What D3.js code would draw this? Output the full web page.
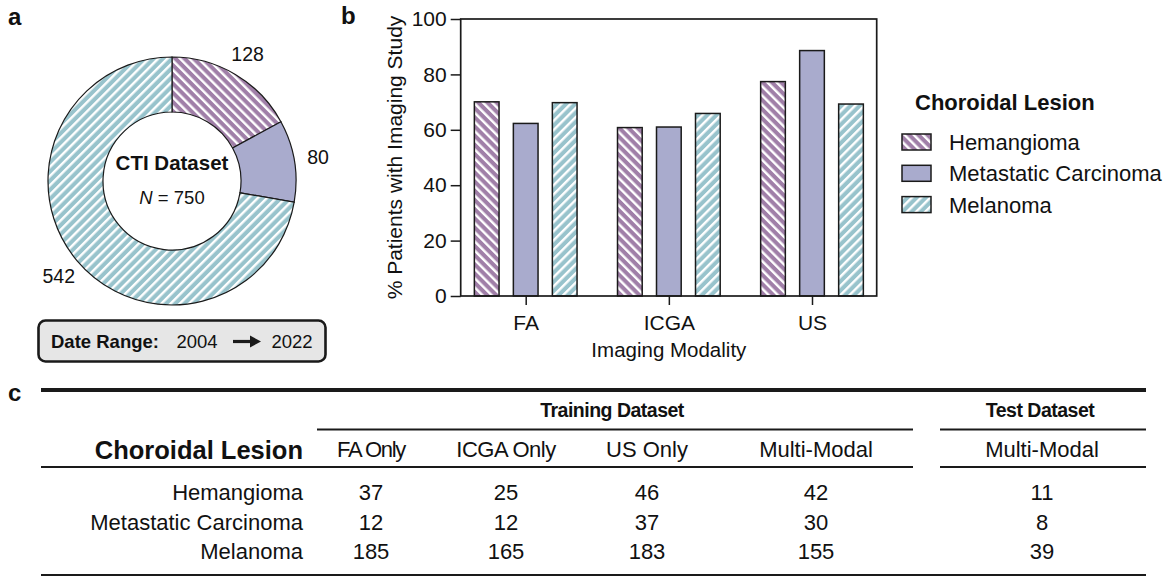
<!DOCTYPE html>
<html>
<head>
<meta charset="utf-8">
<script src="https://cdn.jsdelivr.net/npm/d3@7"></script>
<style>
  body { margin: 0; background: #fff; }
  svg { display: block; }
  text { font-family: Arial, "Liberation Sans", Helvetica, sans-serif; fill: #111; }
</style>
</head>
<body>
<svg id="fig" width="1169" height="580"></svg>
<script>
// ---- data ----
const lesions = ["Hemangioma", "Metastatic Carcinoma", "Melanoma"];
const lesionCounts = [128, 80, 542];
const totalPatients = 750;
const dateStart = "2004";
const dateEnd = "2022";

const modalities = ["FA", "ICGA", "US"];
const hemangiomaPct = [70.1, 60.8, 77.4];
const metastaticPct = [62.3, 61.0, 88.6];
const melanomaPct = [69.8, 65.9, 69.3];
const yTicks = [0, 20, 40, 60, 80, 100];

const trainingColumns = ["FA Only", "ICGA Only", "US Only", "Multi-Modal"];
const testColumns = ["Multi-Modal"];
const hemangiomaCounts = [37, 25, 46, 42, 11];
const metastaticCounts = [12, 12, 37, 30, 8];
const melanomaCounts = [185, 165, 183, 155, 39];

// ---- styling ----
const fills = ["#a07fa8", "#a9abcd", "#98c3cc"];
const hatchAngle = [-45, null, 45];
const ink = "#1a1a1a";

const svg = d3.select("#fig");
const defs = svg.append("defs");

// diagonal white-stripe patterns
function hatch(id, color, angle) {
  const s = 6.5;
  const p = defs.append("pattern")
    .attr("id", id)
    .attr("patternUnits", "userSpaceOnUse")
    .attr("width", s).attr("height", s)
    .attr("patternTransform", `rotate(${angle})`);
  p.append("rect").attr("width", s).attr("height", s).attr("fill", color);
  p.append("rect").attr("width", 2.4).attr("height", s).attr("fill", "#fff");
}
const fillFor = lesions.map((l, i) => {
  if (hatchAngle[i] === null) return fills[i];
  const id = "hatch" + i;
  hatch(id, fills[i], hatchAngle[i]);
  return `url(#${id})`;
});

// panel letters
function panelLetter(t, x, y) {
  svg.append("text").attr("x", x).attr("y", y).text(t)
    .attr("font-size", 24).attr("font-weight", 700);
}
panelLetter("a", 8, 25);
panelLetter("b", 341, 24);
panelLetter("c", 8, 401);

// ---- panel a: donut ----
const pieG = svg.append("g").attr("transform", "translate(172,181)");
const pie = d3.pie().sort(null).value(d => d);
const arcs = pie(lesionCounts);
const arc = d3.arc().innerRadius(69).outerRadius(124);
const labelArc = d3.arc().innerRadius(148).outerRadius(148);

pieG.selectAll("path.slice").data(arcs).join("path")
  .attr("class", "slice")
  .attr("d", arc)
  .attr("fill", (d, i) => fillFor[i])
  .attr("stroke", ink).attr("stroke-width", 1.2);

pieG.selectAll("text.count").data(arcs).join("text")
  .attr("class", "count")
  .attr("transform", d => `translate(${labelArc.centroid(d)})`)
  .attr("text-anchor", "middle")
  .attr("dy", "0.36em")
  .attr("font-size", 19.5)
  .text(d => d.data);

pieG.append("text").attr("y", -11).attr("text-anchor", "middle")
  .attr("font-size", 20.5).attr("font-weight", 700).text("CTI Dataset");
const nText = pieG.append("text").attr("y", 23).attr("text-anchor", "middle").attr("font-size", 18.5);
nText.append("tspan").attr("font-style", "italic").text("N");
nText.append("tspan").text(" = " + totalPatients);

// date range box
const box = svg.append("g");
box.append("rect").attr("x", 38.5).attr("y", 320.5).attr("width", 287).attr("height", 41)
  .attr("rx", 7).attr("fill", "#e6e6e6").attr("stroke", ink).attr("stroke-width", 2.6);
box.append("text").attr("x", 51).attr("y", 347.5).attr("font-size", 18.5).attr("font-weight", 700).text("Date Range:");
box.append("text").attr("x", 176.5).attr("y", 347.5).attr("font-size", 18.5).text(dateStart);
box.append("text").attr("x", 271.5).attr("y", 347.5).attr("font-size", 18.5).text(dateEnd);
box.append("line").attr("x1", 233).attr("x2", 252).attr("y1", 341.5).attr("y2", 341.5)
  .attr("stroke", ink).attr("stroke-width", 3.2);
box.append("path").attr("d", "M250,335.5 L261,341.5 L250,347.5 Z").attr("fill", ink);

// ---- panel b: grouped bars ----
const plotL = 460.7, plotR = 876.7;
const y = d3.scaleLinear().domain([0, 100]).range([296, 19]);
const x0 = d3.scalePoint().domain(modalities).range([525.7, 812]);
const x1 = d3.scaleBand().domain(lesions).range([-58.5, 58.5])
  .paddingInner(0.367).paddingOuter(0.1835);

const barRows = modalities.map((m, j) => ({
  modality: m,
  values: [hemangiomaPct[j], metastaticPct[j], melanomaPct[j]]
}));

const barG = svg.append("g");
barG.selectAll("g.group").data(barRows).join("g")
  .attr("class", "group")
  .attr("transform", d => `translate(${x0(d.modality)},0)`)
  .selectAll("rect").data(d => d.values.map((v, i) => ({ lesion: lesions[i], v, i })))
  .join("rect")
  .attr("x", d => x1(d.lesion))
  .attr("width", x1.bandwidth())
  .attr("y", d => y(d.v))
  .attr("height", d => y(0) - y(d.v))
  .attr("fill", d => fillFor[d.i])
  .attr("stroke", ink).attr("stroke-width", 1.5);

// frame
svg.append("rect").attr("x", plotL).attr("y", y(100)).attr("width", plotR - plotL)
  .attr("height", y(0) - y(100)).attr("fill", "none").attr("stroke", ink).attr("stroke-width", 1.7);

const yAxis = svg.append("g").attr("transform", `translate(${plotL},0)`)
  .call(d3.axisLeft(y).tickValues(yTicks).tickSize(10).tickPadding(4));
yAxis.select(".domain").remove();
yAxis.selectAll("line").attr("stroke", ink).attr("stroke-width", 1.5);
yAxis.selectAll("text").attr("font-size", 21).attr("font-family", null).attr("fill", ink);

const xAxis = svg.append("g").attr("transform", `translate(0,${y(0)})`)
  .call(d3.axisBottom(x0).tickSize(9).tickSizeOuter(0).tickPadding(10));
xAxis.select(".domain").remove();
xAxis.selectAll("line").attr("stroke", ink).attr("stroke-width", 1.5);
xAxis.selectAll("text").attr("font-size", 21).attr("font-family", null).attr("fill", ink);

svg.append("text").attr("transform", `translate(402,${(y(0) + y(100)) / 2}) rotate(-90)`)
  .attr("text-anchor", "middle").attr("font-size", 21).text("% Patients with Imaging Study");
svg.append("text").attr("x", x0("ICGA")).attr("y", 357).attr("text-anchor", "middle")
  .attr("font-size", 20.5).text("Imaging Modality");

// legend
const leg = svg.append("g");
leg.append("text").attr("x", 915).attr("y", 110).attr("font-size", 22).attr("font-weight", 700)
  .text("Choroidal Lesion");
const legItems = leg.selectAll("g.item").data(lesions).join("g")
  .attr("class", "item")
  .attr("transform", (d, i) => `translate(902,${134 + i * 31.3})`);
legItems.append("rect").attr("width", 29).attr("height", 16)
  .attr("fill", (d, i) => fillFor[i]).attr("stroke", ink).attr("stroke-width", 1.5);
legItems.append("text").attr("x", 47).attr("y", 16).attr("font-size", 22).text(d => d);

// ---- panel c: counts table ----
const tbl = svg.append("g");
const colX = [371, 506, 647, 816, 1042];
const headSpacing = [-1.3, -0.5, 0, 0, 0];
const labelRight = 303;
const rowBase = [500, 530, 559];
const tableRows = [hemangiomaCounts, metastaticCounts, melanomaCounts];
const tblL = 41, tblR = 1146, trainR = 913, testL = 940;

function hline(x1v, x2v, yv, w) {
  tbl.append("line").attr("x1", x1v).attr("x2", x2v).attr("y1", yv).attr("y2", yv)
    .attr("stroke", ink).attr("stroke-width", w);
}
hline(tblL, tblR, 390, 4);
hline(317, trainR, 429.5, 1.8);
hline(testL, tblR, 429.5, 1.8);
hline(tblL, trainR, 467, 1.8);
hline(testL, tblR, 467, 1.8);
hline(tblL, tblR, 575, 1.8);

tbl.append("text").attr("x", 612).attr("y", 417).attr("text-anchor", "middle")
  .attr("font-size", 19.5).attr("font-weight", 700).attr("letter-spacing", -0.5).text("Training Dataset");
tbl.append("text").attr("x", 1040).attr("y", 417).attr("text-anchor", "middle")
  .attr("font-size", 19.5).attr("font-weight", 700).attr("letter-spacing", -0.5).text("Test Dataset");

tbl.append("text").attr("x", labelRight).attr("y", 458.5).attr("text-anchor", "end")
  .attr("font-size", 25.5).attr("font-weight", 700).text("Choroidal Lesion");
tbl.selectAll("text.colhead").data(trainingColumns.concat(testColumns)).join("text")
  .attr("class", "colhead")
  .attr("x", (d, i) => colX[i]).attr("y", 457).attr("text-anchor", "middle")
  .attr("font-size", 22).attr("letter-spacing", (d, i) => headSpacing[i]).text(d => d);

const rowG = tbl.selectAll("g.row").data(tableRows).join("g").attr("class", "row");
rowG.append("text").attr("x", labelRight).attr("y", (d, i) => rowBase[i])
  .attr("text-anchor", "end").attr("font-size", 22).text((d, i) => lesions[i]);
rowG.each(function (vals, r) {
  d3.select(this).selectAll("text.cell").data(vals).join("text")
    .attr("class", "cell")
    .attr("x", (d, i) => colX[i]).attr("y", rowBase[r])
    .attr("text-anchor", "middle").attr("font-size", 22).text(d => d);
});
</script>
</body>
</html>
